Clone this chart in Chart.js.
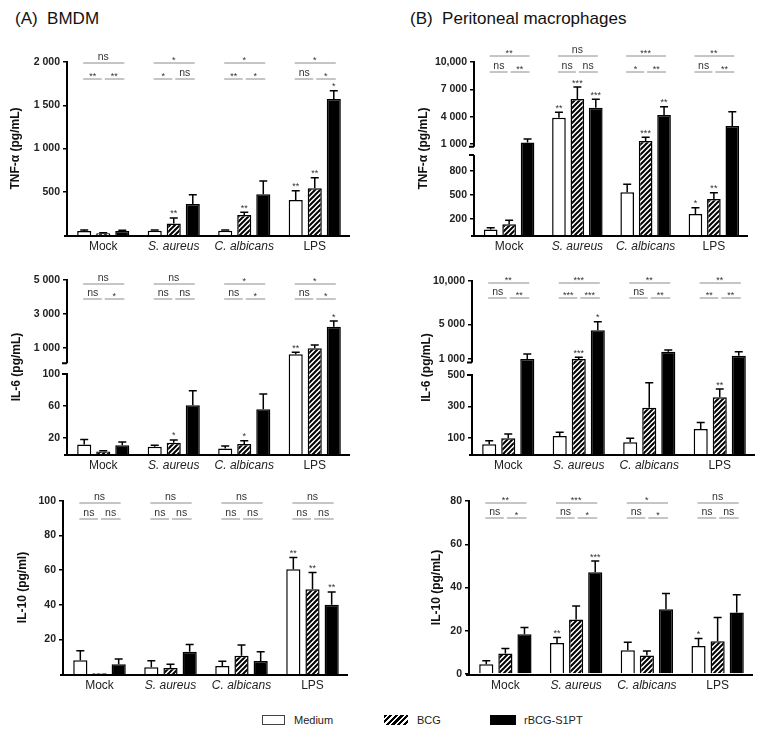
<!DOCTYPE html>
<html>
<head>
<meta charset="utf-8">
<script src="https://cdn.jsdelivr.net/npm/chart.js@4.4.1/dist/chart.umd.min.js"></script>
<style>
  body { margin: 0; width: 771px; height: 737px; background: #fff; position: relative; overflow: hidden;
         font-family: "Liberation Sans", Arial, sans-serif; color: #111; }
  canvas { position: absolute; }
  .ttl { position: absolute; font-size: 17px; white-space: pre; line-height: 20px; }
  .lg { position: absolute; box-sizing: border-box; }
  .lt { position: absolute; font-size: 11px; line-height: 13px; color: #222; }
</style>
</head>
<body>
<div class="ttl" style="left:15px;top:9px">(A)  BMDM</div>
<div class="ttl" style="left:410px;top:9px">(B)  Peritoneal macrophages</div>

<canvas id="aTnf"></canvas>
<canvas id="aIl6"></canvas>
<canvas id="aIl10"></canvas>
<canvas id="bTnf"></canvas>
<canvas id="bIl6"></canvas>
<canvas id="bIl10"></canvas>

<div class="lg" style="left:262px;top:715px;width:23px;height:10px;border:1px solid #444;background:#fff"></div>
<div class="lt" style="left:294px;top:714px">Medium</div>
<div class="lg" style="left:384px;top:715px;width:24px;height:10px;background:repeating-linear-gradient(135deg,#000 0 2.2px,#fff 2.2px 4px)"></div>
<div class="lt" style="left:417px;top:714px">BCG</div>
<div class="lg" style="left:490px;top:715px;width:26px;height:10px;background:#000"></div>
<div class="lt" style="left:524px;top:714px">rBCG-S1PT</div>

<script>
const FONT = '"Liberation Sans", Arial, sans-serif';
const CATS = ['Mock', 'S. aureus', 'C. albicans', 'LPS'];
const SERIES = ['Medium', 'BCG', 'rBCG-S1PT'];

// (A) BMDM — TNF-α
const aTnfMed = [45, 48, 48, 405];
const aTnfMedSd = [13, 10, 10, 107];
const aTnfBcg = [20, 132, 231, 540];
const aTnfBcgSd = [5, 65, 31, 122];
const aTnfRbcg = [45, 358, 470, 1572];
const aTnfRbcgSd = [10, 108, 154, 96];
const aTnfTicks = [500, 1000, 1500, 2000];
const aTnfTickLabels = ['500', '1 000', '1 500', '2 000'];
const aTnfSigTop = ['ns', '*', '*', '*'];
const aTnfSigL = ['**', '*', '**', 'ns'];
const aTnfSigR = ['**', 'ns', '*', '*'];
const aTnfStars = [['', '', '', '**'], ['', '**', '**', '**'], ['', '', '', '*']];

// (A) BMDM — IL-6
const aIl6Med = [12, 9, 7, 629];
const aIl6MedSd = [6, 2, 3, 118];
const aIl6Bcg = [3, 14, 12.5, 982];
const aIl6BcgSd = [1, 3.5, 4, 194];
const aIl6Rbcg = [11, 61, 56, 2253];
const aIl6RbcgSd = [4, 18, 19, 335];
const aIl6Ticks = [20, 60, 100, 1000, 3000, 5000];
const aIl6TickLabels = ['20', '60', '100', '1 000', '3 000', '5 000'];
const aIl6SigTop = ['ns', 'ns', '*', '*'];
const aIl6SigL = ['ns', 'ns', 'ns', 'ns'];
const aIl6SigR = ['*', 'ns', '*', '*'];
const aIl6Stars = [['', '', '', '**'], ['', '*', '*', ''], ['', '', '', '*']];

// (A) BMDM — IL-10
const aIl10Med = [8, 3.9, 4.6, 60.5];
const aIl10MedSd = [5.5, 3.8, 2.7, 6.9];
const aIl10Bcg = [0.5, 3.5, 10.6, 49];
const aIl10BcgSd = [0, 2.1, 6.2, 9.6];
const aIl10Rbcg = [5.6, 12.9, 7.5, 40];
const aIl10RbcgSd = [3.1, 4.1, 5.4, 7.4];
const aIl10Ticks = [20, 40, 60, 80, 100];
const aIl10TickLabels = ['20', '40', '60', '80', '100'];
const aIl10SigTop = ['ns', 'ns', 'ns', 'ns'];
const aIl10SigL = ['ns', 'ns', 'ns', 'ns'];
const aIl10SigR = ['ns', 'ns', 'ns', 'ns'];
const aIl10Stars = [['', '', '', '**'], ['', '', '', '**'], ['', '', '', '**']];

// (B) Peritoneal macrophages — TNF-α
const bTnfMed = [70, 3890, 534, 262];
const bTnfMedSd = [22, 590, 100, 79];
const bTnfBcg = [133, 5950, 1329, 450];
const bTnfBcgSd = [50, 1300, 406, 79];
const bTnfRbcg = [1160, 4985, 4183, 2976];
const bTnfRbcgSd = [390, 915, 911, 1570];
const bTnfTicks = [200, 500, 800, 1000, 4000, 7000, 10000];
const bTnfTickLabels = ['200', '500', '800', '1 000', '4 000', '7 000', '10,000'];
const bTnfSigTop = ['**', 'ns', '***', '**'];
const bTnfSigL = ['ns', 'ns', '*', 'ns'];
const bTnfSigR = ['**', 'ns', '**', '**'];
const bTnfStars = [['', '**', '', '*'], ['', '***', '***', '**'], ['', '***', '**', '']];

// (B) Peritoneal macrophages — IL-6
const bIl6Med = [61, 114, 74, 158];
const bIl6MedSd = [23, 23, 25, 42];
const bIl6Bcg = [99, 1000, 293, 359];
const bIl6BcgSd = [28, 192, 158, 52];
const bIl6Rbcg = [1000, 4310, 1842, 1380];
const bIl6RbcgSd = [577, 990, 196, 462];
const bIl6Ticks = [100, 300, 500, 1000, 5000, 10000];
const bIl6TickLabels = ['100', '300', '500', '1 000', '5 000', '10,000'];
const bIl6SigTop = ['**', '***', '**', '**'];
const bIl6SigL = ['ns', '***', 'ns', '**'];
const bIl6SigR = ['**', '***', '**', '**'];
const bIl6Stars = [['', '', '', ''], ['', '***', '', '**'], ['', '*', '', '']];

// (B) Peritoneal macrophages — IL-10
const bIl10Med = [4.5, 14.3, 11, 13];
const bIl10MedSd = [1.6, 2.6, 3.7, 3.4];
const bIl10Bcg = [9.5, 25.2, 8.6, 15.2];
const bIl10BcgSd = [2.3, 6.3, 2, 10.9];
const bIl10Rbcg = [18.4, 47.1, 30, 28.4];
const bIl10RbcgSd = [3.1, 5.1, 7.2, 8.3];
const bIl10Ticks = [0, 20, 40, 60, 80];
const bIl10TickLabels = ['0', '20', '40', '60', '80'];
const bIl10SigTop = ['**', '***', '*', 'ns'];
const bIl10SigL = ['ns', 'ns', 'ns', 'ns'];
const bIl10SigR = ['*', '*', '*', 'ns'];
const bIl10Stars = [['', '**', '', '*'], ['', '', '', ''], ['', '***', '', '']];

// layout: box = canvas [x, y, w, h], area = chart area [left, top, right, bottom]
// segs = y-axis pieces (value range -> fraction of the axis height)
const PANELS = [
  { id: 'aTnf', box: [0, 40, 360, 215], area: [68, 62, 350, 235], title: 'TNF-α (pg/mL)', titleX: 16,
    means: [aTnfMed, aTnfBcg, aTnfRbcg], sds: [aTnfMedSd, aTnfBcgSd, aTnfRbcgSd], stars: aTnfStars,
    sig: [aTnfSigTop, aTnfSigL, aTnfSigR], ticks: aTnfTicks, labels: aTnfTickLabels, max: 2000, sigY: 1, sigGap: 16,
    segs: [{ from: 0, to: 2000, lo: 0, hi: 1 }] },
  { id: 'aIl6', box: [0, 262, 360, 212], area: [68, 280, 350, 454], title: 'IL-6 (pg/mL)', titleX: 17,
    means: [aIl6Med, aIl6Bcg, aIl6Rbcg], sds: [aIl6MedSd, aIl6BcgSd, aIl6RbcgSd], stars: aIl6Stars,
    sig: [aIl6SigTop, aIl6SigL, aIl6SigR], ticks: aIl6Ticks, labels: aIl6TickLabels, max: 5000, sigY: 4, sigGap: 15,
    segs: [{ from: 0, to: 100, lo: 0, hi: 0.46 }, { from: 100, to: 5000, lo: 0.521, hi: 1 }] },
  { id: 'aIl10', box: [0, 482, 360, 212], area: [64, 501, 348, 674], title: 'IL-10 (pg/ml)', titleX: 23,
    means: [aIl10Med, aIl10Bcg, aIl10Rbcg], sds: [aIl10MedSd, aIl10BcgSd, aIl10RbcgSd], stars: aIl10Stars,
    sig: [aIl10SigTop, aIl10SigL, aIl10SigR], ticks: aIl10Ticks, labels: aIl10TickLabels, max: 100, sigY: 2, sigGap: 16,
    segs: [{ from: 0, to: 100, lo: 0, hi: 1 }] },
  { id: 'bTnf', box: [385, 40, 376, 215], area: [475, 62, 748, 235], title: 'TNF-α (pg/mL)', titleX: 424,
    means: [bTnfMed, bTnfBcg, bTnfRbcg], sds: [bTnfMedSd, bTnfBcgSd, bTnfRbcgSd], stars: bTnfStars,
    sig: [bTnfSigTop, bTnfSigL, bTnfSigR], ticks: bTnfTicks, labels: bTnfTickLabels, max: 10000, sigY: -6, sigGap: 16,
    segs: [{ from: 0, to: 999, lo: 0, hi: 0.462 }, { from: 700, to: 10000, lo: 0.5104, hi: 1 }] },
  { id: 'bIl6', box: [385, 262, 376, 212], area: [473, 281, 755, 454], title: 'IL-6 (pg/mL)', titleX: 427,
    means: [bIl6Med, bIl6Bcg, bIl6Rbcg], sds: [bIl6MedSd, bIl6BcgSd, bIl6RbcgSd], stars: bIl6Stars,
    sig: [bIl6SigTop, bIl6SigL, bIl6SigR], ticks: bIl6Ticks, labels: bIl6TickLabels, max: 10000, sigY: 2, sigGap: 15,
    segs: [{ from: 0, to: 500, lo: 0, hi: 0.4566 }, { from: 600, to: 10000, lo: 0.529, hi: 1 }] },
  { id: 'bIl10', box: [385, 482, 376, 212], area: [470, 501, 753, 674], title: 'IL-10 (pg/mL)', titleX: 437,
    means: [bIl10Med, bIl10Bcg, bIl10Rbcg], sds: [bIl10MedSd, bIl10BcgSd, bIl10RbcgSd], stars: bIl10Stars,
    sig: [bIl10SigTop, bIl10SigL, bIl10SigR], ticks: bIl10Ticks, labels: bIl10TickLabels, max: 80, sigY: 2, sigGap: 15,
    segs: [{ from: 0, to: 80, lo: 0, hi: 1 }] }
];
const BY_ID = {};
PANELS.forEach(p => { BY_ID[p.id] = p; });

// linear scale with an axis break
class BrokenScale extends Chart.LinearScale {
  segs() { return BY_ID[this.chart.canvas.id].segs; }
  getPixelForValue(v) {
    const s = this.segs();
    let f = 0;
    for (let i = 0; i < s.length; i++) {
      const g = s[i];
      if (v <= g.to || i === s.length - 1) {
        if (i > 0 && v < g.from) {
          const p = s[i - 1];
          f = p.hi + (v - p.to) / (g.from - p.to) * (g.lo - p.hi);
        } else {
          f = g.lo + (v - g.from) / (g.to - g.from) * (g.hi - g.lo);
        }
        break;
      }
    }
    return this.getPixelForDecimal(f);
  }
  getValueForPixel(px) {
    const f = this.getDecimalForPixel(px);
    const s = this.segs();
    let g = s[s.length - 1];
    for (const c of s) { if (f <= c.hi) { g = c; break; } }
    return g.from + (f - g.lo) / (g.hi - g.lo) * (g.to - g.from);
  }
  buildTicks() {
    return BY_ID[this.chart.canvas.id].ticks.map(value => ({ value }));
  }
}
BrokenScale.id = 'broken';
Chart.register(BrokenScale);

function hatch() {
  const c = document.createElement('canvas');
  c.width = 5; c.height = 5;
  const g = c.getContext('2d');
  g.fillStyle = '#fff';
  g.fillRect(0, 0, 5, 5);
  g.strokeStyle = '#000';
  g.lineWidth = 2;
  g.beginPath();
  g.moveTo(-1, 6); g.lineTo(6, -1);
  g.moveTo(-1, 1); g.lineTo(1, -1);
  g.moveTo(4, 6); g.lineTo(6, 4);
  g.stroke();
  return g.createPattern(c, 'repeat');
}
const FILLS = ['#fff', hatch(), '#000'];

function sigText(ctx, s, x, yLine) {
  const star = s.indexOf('*') >= 0;
  ctx.font = (star ? '9px ' : '10.5px ') + FONT;
  ctx.fillText(s, x, star ? yLine - 0.5 : yLine - 3);
}

function panelPlugin(p) {
  return {
    id: 'panel_' + p.id,
    afterDatasetsDraw(chart) {
      const ctx = chart.ctx, y = chart.scales.y;
      ctx.save();
      ctx.strokeStyle = '#000';
      ctx.lineWidth = 1.5;
      p.means.forEach((arr, d) => {
        chart.getDatasetMeta(d).data.forEach((bar, i) => {
          const sd = p.sds[d][i];
          if (!sd) return;
          const top = y.getPixelForValue(arr[i] + sd);
          ctx.beginPath();
          ctx.moveTo(bar.x, bar.y);
          ctx.lineTo(bar.x, top);
          ctx.moveTo(bar.x - 4, top);
          ctx.lineTo(bar.x + 4, top);
          ctx.stroke();
        });
      });
      ctx.restore();
    },
    afterDraw(chart) {
      const ctx = chart.ctx, a = chart.chartArea, y = chart.scales.y;
      ctx.save();
      // axes
      ctx.strokeStyle = '#000';
      ctx.lineWidth = 2;
      ctx.beginPath();
      ctx.moveTo(a.left - 4, a.bottom + 1);
      ctx.lineTo(a.right, a.bottom + 1);
      p.segs.forEach((g, k) => {
        const y0 = y.getPixelForDecimal(g.lo), y1 = y.getPixelForDecimal(g.hi);
        ctx.moveTo(a.left - 1, y0 + (k === 0 ? 2 : 0));
        ctx.lineTo(a.left - 1, y1);
        if (k < p.segs.length - 1) { ctx.moveTo(a.left - 6, y1); ctx.lineTo(a.left - 1, y1); }
        if (k > 0) { ctx.moveTo(a.left - 6, y0); ctx.lineTo(a.left - 1, y0); }
      });
      ctx.stroke();

      // y title
      ctx.save();
      ctx.translate(p.titleX - p.box[0], (a.top + a.bottom) / 2);
      ctx.rotate(-Math.PI / 2);
      ctx.fillStyle = '#111';
      ctx.font = 'bold 12px ' + FONT;
      ctx.textAlign = 'center';
      ctx.textBaseline = 'middle';
      ctx.fillText(p.title, 0, 0);
      ctx.restore();

      // significance brackets
      const m = [0, 1, 2].map(d => chart.getDatasetMeta(d).data);
      const yU = a.top + p.sigY, yL = yU + p.sigGap;
      ctx.fillStyle = '#333';
      ctx.textAlign = 'center';
      ctx.textBaseline = 'alphabetic';
      for (let i = 0; i < CATS.length; i++) {
        const wx = m[0][i].x, bx = m[1][i].x, kx = m[2][i].x;
        ctx.strokeStyle = '#8c8c8c';
        ctx.lineWidth = 1;
        ctx.beginPath();
        ctx.moveTo(wx - 1, yU); ctx.lineTo(kx + 2, yU);
        ctx.moveTo(wx - 1, yL); ctx.lineTo(bx - 1.5, yL);
        ctx.moveTo(bx + 1.5, yL); ctx.lineTo(kx + 2, yL);
        ctx.stroke();
        sigText(ctx, p.sig[0][i], (wx + kx) / 2, yU);
        sigText(ctx, p.sig[1][i], (wx + bx) / 2 - 1, yL);
        sigText(ctx, p.sig[2][i], (bx + kx) / 2 + 1.5, yL);
      }

      // marks over bars
      ctx.font = '9px ' + FONT;
      p.stars.forEach((row, d) => {
        row.forEach((s, i) => {
          if (!s) return;
          const top = y.getPixelForValue(p.means[d][i] + p.sds[d][i]);
          ctx.fillText(s, m[d][i].x, top - 1.5);
        });
      });
      ctx.restore();
    }
  };
}

PANELS.forEach(p => {
  const cv = document.getElementById(p.id);
  const [bx, by, bw, bh] = p.box;
  const [l, t, r, b] = p.area;
  cv.width = bw; cv.height = bh;
  cv.style.left = bx + 'px'; cv.style.top = by + 'px';
  cv.style.width = bw + 'px'; cv.style.height = bh + 'px';

  new Chart(cv, {
    type: 'bar',
    data: {
      labels: CATS,
      datasets: SERIES.map((name, d) => ({
        label: name,
        data: p.means[d],
        backgroundColor: FILLS[d],
        borderColor: '#000',
        borderWidth: 1.5,
        categoryPercentage: 0.81,
        barPercentage: 0.74
      }))
    },
    options: {
      responsive: false,
      animation: false,
      devicePixelRatio: 1,
      layout: { padding: { top: t - by, right: bx + bw - r, left: 0, bottom: 0 } },
      plugins: { legend: { display: false }, tooltip: { enabled: false } },
      scales: {
        x: {
          grid: { display: false, drawTicks: false },
          border: { display: false },
          ticks: {
            color: '#222',
            padding: 4,
            maxRotation: 0,
            font: (c) => ({ family: FONT, size: 12, style: (c.index === 1 || c.index === 2) ? 'italic' : 'normal' })
          },
          afterFit: (s) => { s.height = by + bh - b; }
        },
        y: {
          type: 'broken',
          min: 0,
          max: p.max,
          grid: { drawOnChartArea: false, color: '#000', lineWidth: 1.5, tickLength: 5 },
          border: { display: false },
          ticks: {
            autoSkip: false,
            padding: 3,
            color: '#222',
            font: { family: FONT, size: 10.5, weight: 'bold' },
            callback: (v) => p.labels[p.ticks.indexOf(v)]
          },
          afterFit: (s) => { s.width = l - bx; }
        }
      }
    },
    plugins: [panelPlugin(p)]
  });
});
</script>
</body>
</html>
